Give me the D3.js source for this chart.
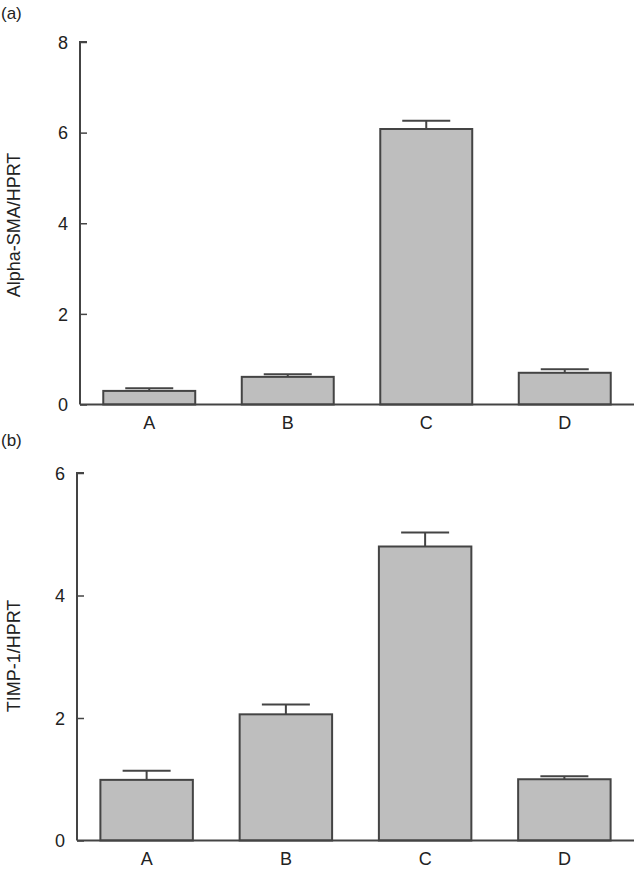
<!DOCTYPE html>
<html>
<head>
<meta charset="utf-8">
<script src="https://cdn.jsdelivr.net/npm/d3@7/dist/d3.min.js"></script>
<style>
  html, body { margin: 0; padding: 0; background: #fff; }
  svg { display: block; }
  text { font-family: "Liberation Sans", Arial, Helvetica, sans-serif; fill: #222; }
</style>
</head>
<body>
<script>
// ---- Data ----
const categories = ["A", "B", "C", "D"];
const alphaSMA = [0.30, 0.61, 6.08, 0.70];
const alphaSMAErr = [0.06, 0.06, 0.18, 0.08];
const timp1 = [0.99, 2.06, 4.80, 1.00];
const timp1Err = [0.15, 0.16, 0.23, 0.05];
const alphaTicks = [0, 2, 4, 6, 8];
const timpTicks = [0, 2, 4, 6];

const W = 634, H = 876;
const svg = d3.select("body").append("svg").attr("width", W).attr("height", H);

const axisColor = "#444";
const barFill = "#bebebe";

function panel(opts) {
  const { values, errs, ticks, yMax, x0, x1, yTop, yBottom, yLabel, tag, tagY, labelY } = opts;
  const g = svg.append("g");
  const x = d3.scaleBand().domain(categories).range([x0, x1]).paddingInner(0.336).paddingOuter(0.168);
  const y = d3.scaleLinear().domain([0, yMax]).range([yBottom, yTop]);

  // y axis (ticks pointing inward)
  const yAxis = d3.axisRight(y).tickValues(ticks).tickSize(7).tickFormat(d3.format("d"));
  const ya = g.append("g").attr("transform", `translate(${x0},0)`).call(yAxis);
  ya.select(".domain").attr("stroke", axisColor).attr("stroke-width", 2)
    .attr("d", `M7,${yTop}H0V${yBottom}`);
  ya.selectAll(".tick line").attr("stroke", axisColor).attr("stroke-width", 1.5);
  ya.selectAll(".tick text").attr("x", -12).attr("text-anchor", "end")
    .attr("font-size", 18).attr("fill", "#222").attr("dy", "0.35em");

  // bars
  g.selectAll("rect.bar").data(categories).join("rect")
    .attr("x", d => x(d))
    .attr("y", (d, i) => y(values[i]))
    .attr("width", x.bandwidth())
    .attr("height", (d, i) => yBottom - y(values[i]))
    .attr("fill", barFill)
    .attr("stroke", axisColor)
    .attr("stroke-width", 2);

  // error bars
  const capW = 48;
  categories.forEach((c, i) => {
    const cx = x(c) + x.bandwidth() / 2;
    g.append("line").attr("x1", cx).attr("x2", cx)
      .attr("y1", y(values[i])).attr("y2", y(values[i] + errs[i]))
      .attr("stroke", axisColor).attr("stroke-width", 2);
    g.append("line").attr("x1", cx - capW / 2).attr("x2", cx + capW / 2)
      .attr("y1", y(values[i] + errs[i])).attr("y2", y(values[i] + errs[i]))
      .attr("stroke", axisColor).attr("stroke-width", 2);
  });

  // x axis
  const xAxis = d3.axisBottom(x).tickSize(0).tickPadding(12);
  const xa = g.append("g").attr("transform", `translate(0,${yBottom})`).call(xAxis);
  xa.select(".domain").attr("stroke", axisColor).attr("stroke-width", 2)
    .attr("d", `M${x0},0H${W}`);
  xa.selectAll(".tick text").attr("font-size", 18).attr("fill", "#222");

  // y label
  g.append("text")
    .attr("transform", `translate(20,${labelY}) rotate(-90)`)
    .attr("text-anchor", "middle")
    .attr("font-size", 18)
    .text(yLabel);

  // panel tag
  g.append("text").attr("x", 1).attr("y", tagY).attr("font-size", 17).text(tag);
}

panel({
  values: alphaSMA, errs: alphaSMAErr, ticks: alphaTicks, yMax: 8,
  x0: 80, x1: 634, yTop: 42, yBottom: 404.5,
  yLabel: "Alpha-SMA/HPRT", tag: "(a)", tagY: 19, labelY: 225
});

panel({
  values: timp1, errs: timp1Err, ticks: timpTicks, yMax: 6,
  x0: 77, x1: 634, yTop: 473, yBottom: 840.5,
  yLabel: "TIMP-1/HPRT", tag: "(b)", tagY: 446, labelY: 656
});
</script>
</body>
</html>
